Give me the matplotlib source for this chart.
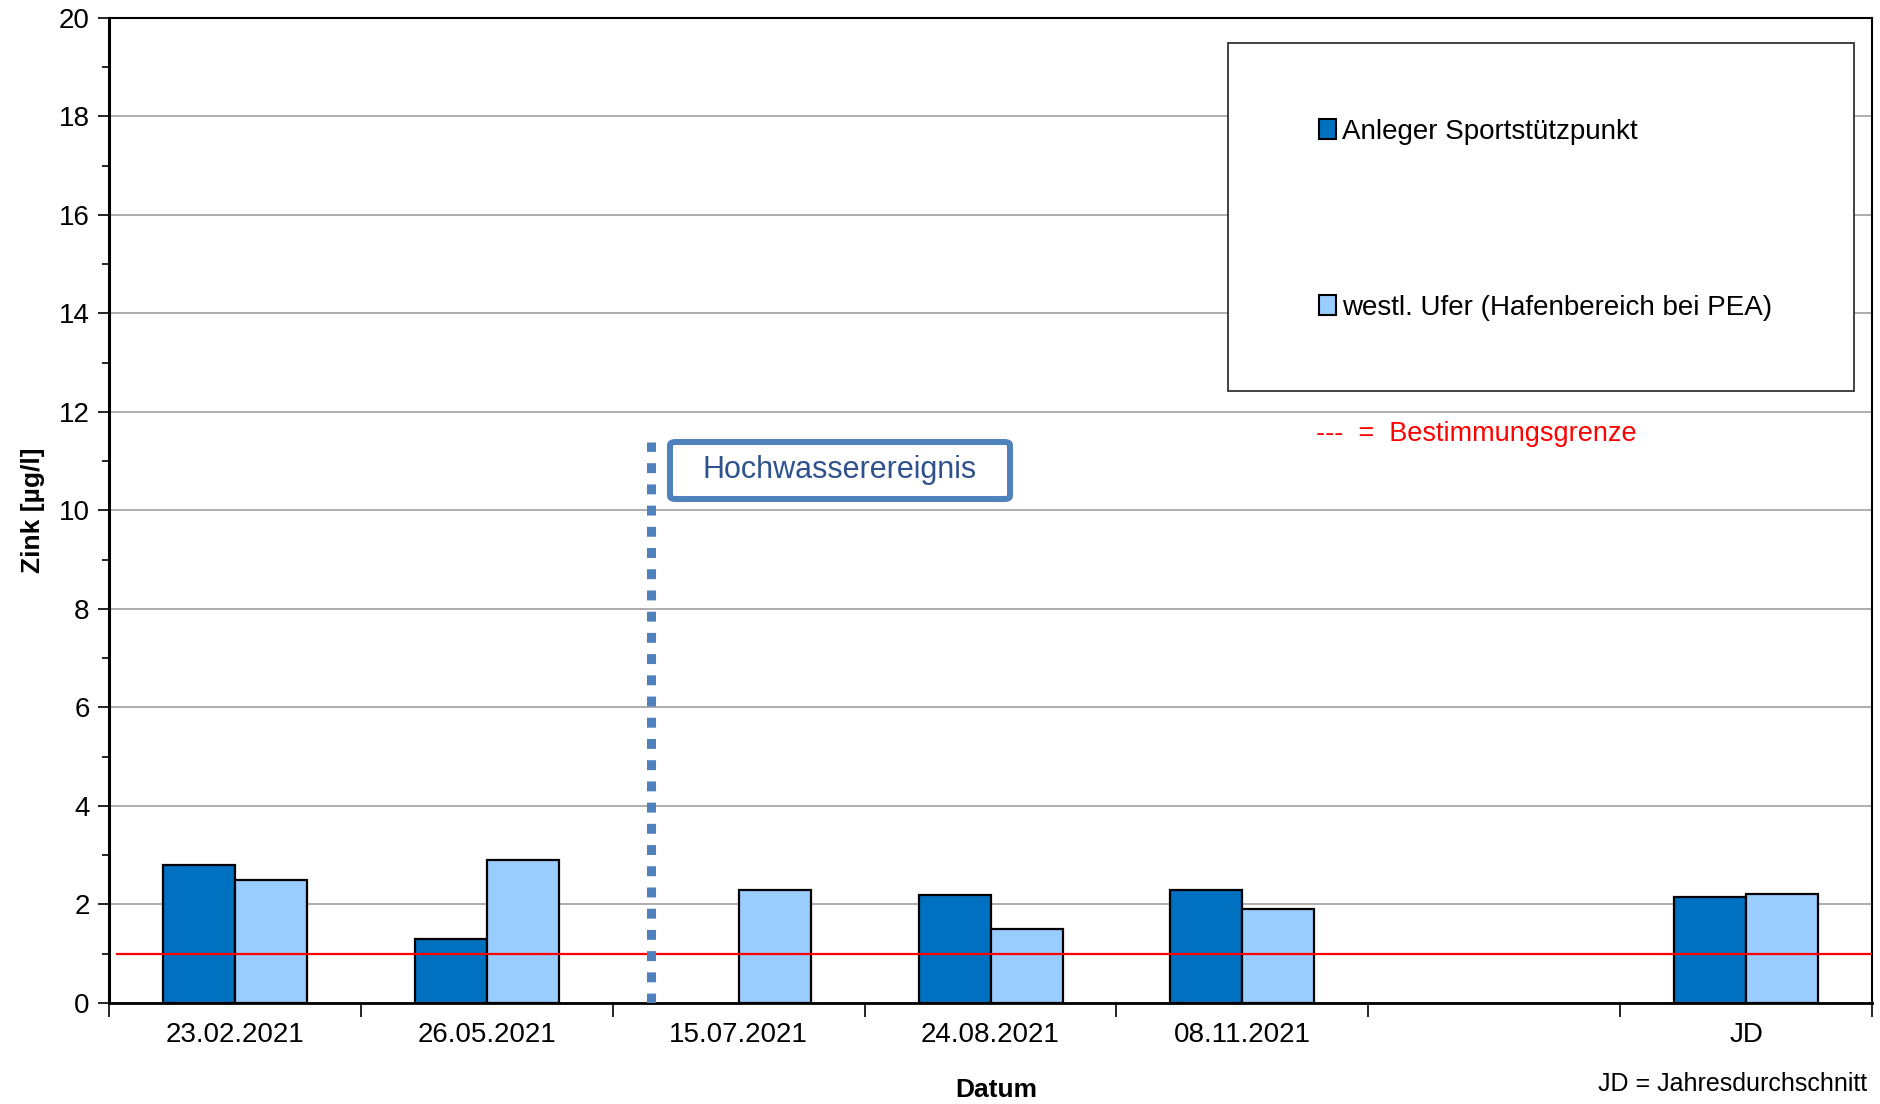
import matplotlib
matplotlib.use("Agg")
import matplotlib.pyplot as plt
from matplotlib.patches import Patch, FancyBboxPatch, Rectangle
from matplotlib.ticker import MultipleLocator, FixedLocator, NullFormatter
import numpy as np

plt.rcParams['font.family'] = ['Liberation Sans', 'DejaVu Sans']

# Messdaten Zink [µg/l]
categories = ['23.02.2021', '26.05.2021', '15.07.2021', '24.08.2021', '08.11.2021', '', 'JD']
anleger = [2.8, 1.3, None, 2.2, 2.3, None, 2.15]
westufer = [2.5, 2.9, 2.3, 1.5, 1.9, None, 2.22]
series_names = ['Anleger Sportstützpunkt', 'westl. Ufer (Hafenbereich bei PEA)']
bestimmungsgrenze = 1.0
hochwasser_pos = 1.65      # zwischen 26.05. und 15.07.
hochwasser_top = 11.4

col_dark = '#0070C0'
col_light = '#99CCFF'

fig = plt.figure(figsize=(18.81, 11.04), dpi=100)
ax = fig.add_axes([0.058, 0.0915, 0.9372, 0.8922])

x = np.arange(len(categories))
w = 0.286
for vals, off, col in ((anleger, -w / 2, col_dark), (westufer, w / 2, col_light)):
    xs = [xi + off for xi, v in zip(x, vals) if v is not None]
    hs = [v for v in vals if v is not None]
    ax.bar(xs, hs, width=w, color=col, edgecolor='black', linewidth=1.6, zorder=3)

# Bestimmungsgrenze
ax.plot([-0.47, 6.5], [bestimmungsgrenze] * 2, color='#FF0000', lw=1.6, zorder=4)

# Hochwasserereignis
ax.plot([hochwasser_pos, hochwasser_pos], [0, hochwasser_top], color='#4F81BD',
        lw=6.5, linestyle=(0, (1.1, 1.25)), dash_capstyle='butt', zorder=5)

ax.set_xlim(-0.5, 6.5)
ax.set_ylim(0, 20)

ax.yaxis.set_major_locator(MultipleLocator(2))
ax.yaxis.set_minor_locator(MultipleLocator(1))
ax.tick_params(axis='y', which='major', direction='out', length=8, width=1.2,
               labelsize=20, pad=6)
ax.tick_params(axis='y', which='minor', direction='out', length=5, width=1.2)
ax.grid(axis='y', which='major', color='#A0A0A0', lw=1.2, zorder=0)
ax.set_axisbelow(True)

ax.xaxis.set_major_locator(FixedLocator(np.arange(-0.5, 7.0, 1.0)))
ax.xaxis.set_major_formatter(NullFormatter())
ax.xaxis.set_minor_locator(FixedLocator(x))
ax.set_xticklabels(categories, minor=True)
ax.tick_params(axis='x', which='major', direction='out', length=10, width=1.2)
ax.tick_params(axis='x', which='minor', length=0, labelsize=20, pad=14)

for side in ('left', 'bottom', 'top', 'right'):
    ax.spines[side].set_color('black')
ax.spines['left'].set_linewidth(2.2)
ax.spines['bottom'].set_linewidth(2.0)
ax.spines['top'].set_linewidth(1.5)
ax.spines['right'].set_linewidth(1.5)

ax.set_ylabel('Zink [µg/l]', fontsize=19, fontweight='bold', labelpad=10,
              fontstretch='condensed')
fig.text(996 / 1881, 1 - 1090 / 1104, 'Datum', fontsize=19, fontweight='bold',
         ha='center', va='center')
fig.text(1867 / 1881, 1 - 1084 / 1104, 'JD = Jahresdurchschnitt', fontsize=18,
         ha='right', va='center')

# Legende mit eigenem Rahmen
fig.patches.append(Rectangle((1228 / 1881, 1 - 391 / 1104), 626 / 1881, 348 / 1104,
                             transform=fig.transFigure, facecolor='white',
                             edgecolor='#333333', lw=1.3, zorder=6))
handles = [Patch(facecolor=col_dark, edgecolor='black', lw=1.5),
           Patch(facecolor=col_light, edgecolor='black', lw=1.5)]
leg = fig.legend(handles, series_names, loc='upper left',
                 bbox_to_anchor=(1305 / 1881, 1 - 105 / 1104), frameon=False,
                 fontsize=20, handlelength=0.6, handleheight=0.75, handletextpad=0.25,
                 labelspacing=5.4, borderpad=0)
leg.set_zorder(7)

fig.text(1316 / 1881, 1 - 434 / 1104, '---  =  Bestimmungsgrenze', fontsize=19.5,
         color='#FF0000', ha='left', va='center')

# Beschriftung Hochwasserereignis
box = FancyBboxPatch((670 / 1881, 1 - 499 / 1104), 340 / 1881, 57 / 1104,
                     boxstyle='round,pad=0,rounding_size=0.003',
                     transform=fig.transFigure, facecolor='white',
                     edgecolor='#4F81BD', lw=4.3, zorder=6)
fig.patches.append(box)
fig.text(840 / 1881, 1 - 470 / 1104, 'Hochwasserereignis', fontsize=22,
         color='#2F528F', ha='center', va='center', zorder=7)

fig.savefig('out.png', dpi=100, facecolor='white')
